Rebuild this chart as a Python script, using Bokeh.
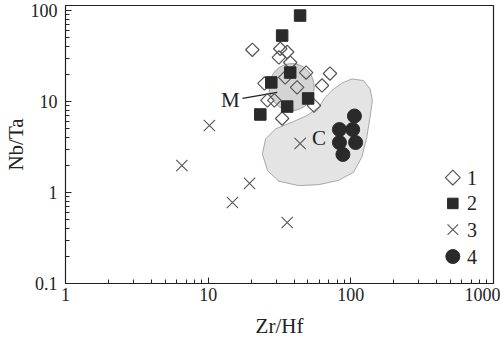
from bokeh.plotting import figure
from bokeh.models import FixedTicker, Label, Range1d, LinearScale
from bokeh.embed import file_html
from bokeh.resources import INLINE
import math

# ---- data ----
s1_x = [20.4, 32.0, 35.8, 31.3, 37.6, 48.6, 71.4, 62.8, 24.8, 34.7, 42.0, 26.0, 29.1, 55.2, 33.0]
s1_y = [37.0, 38.0, 35.0, 30.5, 26.8, 20.8, 20.3, 15.0, 15.8, 18.4, 14.3, 10.3, 10.3, 9.0, 6.5]
s2_x = [44.1, 33.0, 37.6, 27.7, 50.2, 35.8, 23.2]
s2_y = [88.0, 53.0, 20.8, 16.2, 10.8, 8.8, 7.2]
s3_x = [6.54, 10.2, 14.8, 19.5, 35.8, 44.1]
s3_y = [1.98, 5.44, 0.776, 1.26, 0.468, 3.45]
s4_x = [106, 83.2, 103, 83.2, 108, 88]
s4_y = [6.93, 4.92, 4.92, 3.54, 3.54, 2.62]

# field C outline (data coordinates)
c_x = [73.7, 86.5, 101.6, 122.5, 136.3, 141.6, 136.3, 129.3, 119.3, 104.4, 82.1, 59.6,
       43.2, 31.3, 26.0, 24.0, 25.3, 29.7, 38.8, 49.3, 59.6, 66.2]
c_y = [13.2, 15.9, 17.7, 17.0, 13.8, 10.3, 6.71, 4.05, 2.44, 1.67, 1.36, 1.22,
       1.19, 1.33, 1.75, 2.66, 3.89, 5.01, 5.93, 7.01, 8.65, 11.1]
# field M centre and its leader line
m_x = [38.5]
m_y = [14.4]
m_line_x = [17.4, 30.5]
m_line_y = [10.8, 12.6]
m_label = (14.3, 10.5, "M")
c_label = (59.8, 4.02, "C")

x_ticks = [1, 10, 100, 1000]
x_tick_labels = ["1", "10", "100", "1000"]
y_ticks = [0.1, 1, 10, 100]
y_tick_labels = ["0.1", "1", "10", "100"]
legend_labels = ["1", "2", "3", "4"]

FONT = "Liberation Serif"
INK = "#222222"

p = figure(width=500, height=342, x_axis_type="log", y_axis_type="log",
           x_range=(1, 1000), y_range=(0.1, 113.5),
           output_backend="svg", toolbar_location=None,
           min_border_left=62, min_border_right=7, min_border_top=5, min_border_bottom=59)
p.grid.visible = False
p.outline_line_color = INK
p.outline_line_width = 1.2
p.background_fill_color = "white"

# frame-fraction range used only to place the key
p.extra_x_ranges = {"key": Range1d(0, 1)}
p.extra_y_ranges = {"key": Range1d(0, 1)}
p.extra_x_scales = {"key": LinearScale()}
p.extra_y_scales = {"key": LinearScale()}

def minors(majors):
    out = []
    for m in majors[:-1]:
        for k in range(2, 10):
            out.append(m * k)
    return out

p.xaxis.ticker = FixedTicker(ticks=x_ticks, minor_ticks=minors(x_ticks))
p.yaxis.ticker = FixedTicker(ticks=y_ticks, minor_ticks=minors(y_ticks))
p.xaxis.major_label_overrides = dict(zip(x_ticks, x_tick_labels))
p.yaxis.major_label_overrides = dict(zip(y_ticks, y_tick_labels))

for ax in (p.xaxis, p.yaxis):
    ax.major_tick_in = 6
    ax.major_tick_out = 0
    ax.minor_tick_in = 4
    ax.minor_tick_out = 0
    ax.axis_line_color = INK
    ax.major_tick_line_color = INK
    ax.minor_tick_line_color = INK
    ax.major_label_text_font = FONT
    ax.major_label_text_color = INK
    ax.major_label_text_font_size = "18px"
    ax.axis_label_text_font = FONT
    ax.axis_label_text_font_size = "21px"
    ax.axis_label_text_font_style = "normal"
    ax.axis_label_text_color = INK

p.xaxis.axis_label = "Zr/Hf"
p.yaxis.axis_label = "Nb/Ta"
p.xaxis.major_label_standoff = 4
p.xaxis.axis_label_standoff = 10
p.yaxis.major_label_standoff = 8
p.yaxis.axis_label_standoff = 0

# fields
p.patch(c_x, c_y, fill_color="#e4e4e4", line_color="#a8a8a8", line_width=1)
p.ellipse(x=m_x, y=m_y, width=45, height=47, width_units="screen", height_units="screen",
          fill_color="#d4d4d4", line_color="#a0a0a0", line_width=1)
p.line(m_line_x, m_line_y, line_color=INK, line_width=1.3)

style1 = dict(marker="square", angle=math.pi / 4, fill_color=None, line_color="#555555", line_width=1.2)
style2 = dict(marker="square", fill_color="#2a2a2a", line_color="#2a2a2a")
style3 = dict(marker="x", line_color="#555555", line_width=1.1)
style4 = dict(marker="circle", fill_color="#2a2a2a", line_color="#2a2a2a")

p.scatter(s1_x, s1_y, size=9.5, **style1)
p.scatter(s2_x, s2_y, size=11.5, **style2)
p.scatter(s3_x, s3_y, size=16, **style3)
p.scatter(s4_x, s4_y, size=14, **style4)

for (lx, ly, t) in (m_label, c_label):
    p.add_layout(Label(x=lx, y=ly, text=t, text_font=FONT, text_font_size="21px",
                       text_color=INK, text_align="center", text_baseline="middle"))

# key (positions are fractions of the plotting frame)
key_x, key_label_x = 0.905, 0.938
key_rows = [0.381, 0.288, 0.194, 0.097]
key_sizes = [10.5, 10.5, 15, 14]
for i, st in enumerate([style1, style2, style3, style4]):
    p.scatter([key_x], [key_rows[i]], size=key_sizes[i], x_range_name="key", y_range_name="key", **st)
    p.add_layout(Label(x=key_label_x, y=key_rows[i], text=legend_labels[i], x_range_name="key",
                       y_range_name="key", text_font=FONT, text_font_size="20px", text_color=INK,
                       text_align="left", text_baseline="middle"))

open("out.html", "w").write(file_html(p, INLINE))
